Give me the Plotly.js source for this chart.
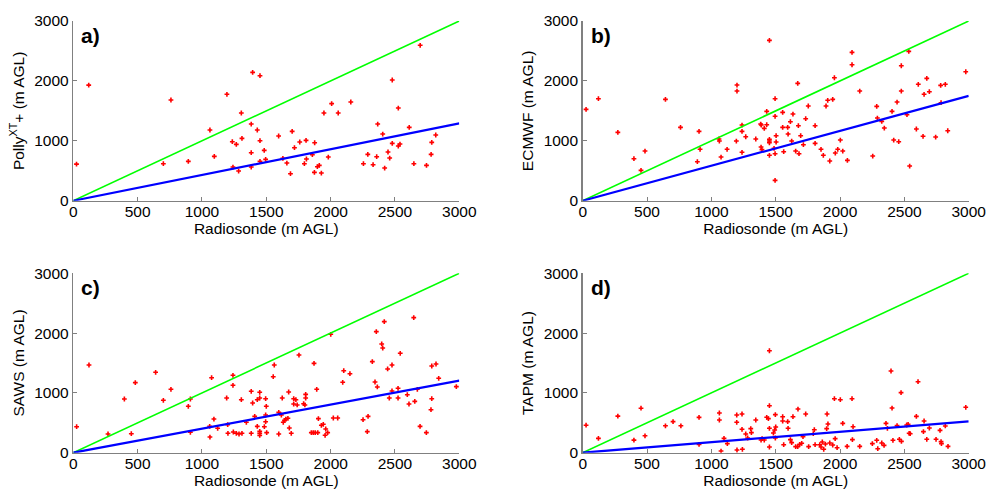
<!DOCTYPE html>
<html>
<head>
<meta charset="utf-8">
<script src="https://cdn.plot.ly/plotly-3.0.1.min.js"></script>
<style>html,body{margin:0;padding:0;background:#fff;}#chart{width:989px;height:494px;}</style>
</head>
<body>
<div id="chart"></div>
<script>
// Panel a) PollyXT+
const xA = [25,120,700,759,894,1062,1096,1194,1236,1241,1267,1285,1306,1311,1383,1383,1383,1394,1430,1451,1451,1451,1484,1495,1596,1629,1660,1688,1701,1719,1760,1796,1809,1812,1858,1874,1876,1897,1912,1928,1948,1982,2008,2059,2157,2255,2289,2330,2358,2366,2405,2420,2446,2459,2479,2479,2526,2526,2539,2611,2647,2696,2745,2781,2786,2817];
const yA = [610,1930,618,1681,657,1180,740,1776,985,562,941,495,1464,1041,1280,801,562,2143,1180,2087,1002,657,840,690,1080,707,629,451,1158,885,980,618,1007,696,768,473,968,568,590,462,1464,729,1620,1464,1648,618,774,601,735,1280,1113,545,813,712,2015,957,913,1547,946,1225,618,2594,590,774,974,1097];
// Panel b) ECMWF
const xB = [26,122,273,398,453,484,643,760,891,904,912,1059,1062,1075,1122,1199,1199,1194,1238,1238,1238,1267,1345,1383,1388,1386,1393,1411,1430,1430,1451,1451,1451,1451,1451,1495,1495,1503,1503,1495,1495,1487,1554,1554,1562,1593,1596,1614,1624,1634,1655,1671,1676,1681,1694,1715,1733,1753,1806,1806,1852,1870,1891,1904,1920,1943,1956,1963,1982,2002,2021,2057,2093,2093,2153,2254,2285,2290,2324,2344,2404,2417,2443,2456,2476,2476,2520,2534,2541,2593,2608,2645,2653,2674,2694,2743,2782,2785,2818,2837,2977];
const yB = [1525,1703,1141,701,506,829,1692,1225,651,1158,858,1030,996,729,858,1931,1831,996,1263,1158,808,1068,1030,1280,1263,896,852,1208,1492,1269,2677,1025,996,968,758,1703,1409,1085,980,785,340,874,1475,1225,818,1225,1113,1319,996,1447,829,1959,1252,785,1085,935,1369,1581,1252,958,858,758,1581,1676,663,1692,2053,796,858,1013,829,674,2477,2270,1831,746,1575,1380,1325,1213,1492,1013,1647,985,2253,1831,1436,2493,579,1197,1943,1075,1776,2042,1820,1063,1926,1636,1943,1168,2153];
// Panel c) SAWS
const xC = [26,122,270,397,451,482,640,700,759,894,910,910,1060,1062,1075,1093,1122,1192,1202,1200,1241,1241,1244,1267,1288,1311,1306,1345,1383,1383,1394,1410,1430,1430,1449,1449,1449,1449,1449,1485,1495,1500,1495,1495,1503,1554,1562,1597,1597,1617,1624,1632,1642,1652,1668,1674,1679,1694,1713,1713,1730,1740,1754,1790,1800,1806,1806,1850,1865,1880,1900,1871,1892,1905,1928,1943,1962,1977,1957,2001,2021,2055,2094,2102,2150,2252,2291,2285,2324,2345,2355,2363,2397,2405,2417,2443,2456,2477,2477,2524,2524,2541,2596,2609,2646,2654,2674,2695,2744,2780,2786,2786,2819,2840,2977];
const yC = [435,1466,313,898,318,1171,1344,876,1060,776,898,341,441,262,1254,563,408,915,324,469,1294,1127,346,324,313,324,886,508,1027,324,831,608,441,886,1010,915,357,324,290,435,903,776,630,518,335,1271,1466,675,313,630,915,508,541,563,575,1015,413,324,903,814,886,798,1633,819,798,976,915,335,335,335,335,1494,1060,569,458,475,396,335,291,1980,580,580,1177,1371,1321,552,608,352,1522,1182,2024,1099,1818,1751,2191,1400,915,1466,1032,1077,915,1662,970,814,2258,859,1060,441,335,719,903,1450,1483,1244,1104];
// Panel d) TAPM
const xD = [26,122,273,398,453,484,643,702,763,904,904,1062,1062,1075,1098,1124,1197,1197,1199,1238,1238,1241,1267,1282,1306,1311,1345,1386,1394,1411,1430,1443,1451,1451,1451,1451,1482,1492,1497,1500,1497,1554,1554,1562,1593,1596,1614,1624,1634,1655,1671,1673,1686,1702,1712,1733,1756,1792,1800,1806,1842,1852,1862,1873,1886,1899,1896,1920,1906,1943,1956,1962,1977,2002,2021,2055,2093,2096,2101,2153,2251,2285,2293,2324,2342,2357,2368,2396,2404,2411,2443,2461,2474,2477,2518,2529,2537,2545,2593,2606,2648,2653,2674,2694,2746,2777,2785,2788,2818,2839,2977];
const yD = [460,239,611,211,744,283,450,520,450,590,140,664,547,28,240,151,630,508,45,647,391,57,313,246,402,335,547,212,235,212,592,570,1705,786,408,95,329,380,636,430,246,602,530,134,519,408,218,168,602,101,101,730,140,157,268,647,101,318,385,134,134,95,179,57,145,647,402,162,480,129,903,235,84,886,491,106,903,218,435,106,151,207,67,162,123,491,408,1366,747,207,452,224,1004,190,463,474,324,318,608,1187,352,530,224,413,224,374,185,151,447,106,759];

// Reference lines (x range) and fitted line end values at x = 3000
const lineX = [0, 3000];
const oneToOne = [0, 3000];
const fitEnd = [1290, 1750, 1205, 525]; // a, b, c, d

const panelLabels = ["a)", "b)", "c)", "d)"];
const yTitles = ["Polly<sup>XT</sup>+ (m AGL)", "ECMWF (m AGL)", "SAWS (m AGL)", "TAPM (m AGL)"];
const xTitle = "Radiosonde (m AGL)";
const tickVals = [0, 500, 1000, 1500, 2000, 2500, 3000];
const yTickVals = [0, 1000, 2000, 3000];

const xs = [xA, xB, xC, xD];
const ys = [yA, yB, yC, yD];
const FONT = "Liberation Sans, Arial, sans-serif";

const traces = [];
for (let i = 0; i < 4; i++) {
  const sfx = i === 0 ? "" : String(i + 1);
  traces.push({
    x: xs[i], y: ys[i], type: "scatter", mode: "markers",
    xaxis: "x" + sfx, yaxis: "y" + sfx,
    marker: {symbol: "cross", size: 4, color: "#ff0000", line: {width: 0}},
    hoverinfo: "x+y", showlegend: false
  });
  traces.push({
    x: lineX, y: oneToOne, type: "scatter", mode: "lines",
    xaxis: "x" + sfx, yaxis: "y" + sfx,
    line: {color: "#00ff00", width: 1.6}, showlegend: false
  });
  traces.push({
    x: lineX, y: [0, fitEnd[i]], type: "scatter", mode: "lines",
    xaxis: "x" + sfx, yaxis: "y" + sfx,
    line: {color: "#0000ff", width: 2.2}, showlegend: false
  });
}

const xDomL = [0.0741, 0.4644], xDomR = [0.5892, 0.9795];
const yDomT = [0.5937, 0.9575], yDomB = [0.0836, 0.4468];

function xax(dom, anchor) {
  return {
    domain: dom, anchor: anchor, range: [0, 3000], tickvals: tickVals,
    showline: true, linecolor: "#808080", linewidth: 1.5, mirror: false,
    ticks: "inside", ticklen: 4, tickcolor: "#808080", tickwidth: 1,
    ticklabelstandoff: -4,
    showgrid: false, zeroline: false,
    tickfont: {family: FONT, size: 15.5, color: "#000"},
    title: {text: xTitle, font: {family: FONT, size: 15.5, color: "#000"}, standoff: 2}
  };
}
function yax(dom, anchor, title) {
  return {
    domain: dom, anchor: anchor, range: [0, 3000], tickvals: yTickVals,
    showline: true, linecolor: "#808080", linewidth: 1.5, mirror: false,
    ticks: "inside", ticklen: 4, tickcolor: "#808080", tickwidth: 1,
    showgrid: false, zeroline: false,
    tickfont: {family: FONT, size: 15.5, color: "#000"},
    title: {text: title, font: {family: FONT, size: 15.5, color: "#000"}, standoff: 6}
  };
}

const annotations = [];
for (let i = 0; i < 4; i++) {
  const sfx = i === 0 ? "" : String(i + 1);
  annotations.push({
    text: "<b>" + panelLabels[i] + "</b>", xref: "x" + sfx + " domain", yref: "y" + sfx + " domain",
    x: 0.015, y: 0.92, xanchor: "left", yanchor: "middle", showarrow: false,
    font: {family: FONT, size: 21, color: "#000"}
  });
}

const layout = {
  width: 989, height: 494,
  margin: {l: 0, r: 0, t: 0, b: 0},
  paper_bgcolor: "#ffffff", plot_bgcolor: "#ffffff",
  showlegend: false,
  xaxis: xax(xDomL, "y"), yaxis: yax(yDomT, "x", yTitles[0]),
  xaxis2: xax(xDomR, "y2"), yaxis2: yax(yDomT, "x2", yTitles[1]),
  xaxis3: xax(xDomL, "y3"), yaxis3: yax(yDomB, "x3", yTitles[2]),
  xaxis4: xax(xDomR, "y4"), yaxis4: yax(yDomB, "x4", yTitles[3]),
  annotations: annotations
};

Plotly.newPlot("chart", traces, layout, {displayModeBar: false, staticPlot: true});
</script>
</body>
</html>
